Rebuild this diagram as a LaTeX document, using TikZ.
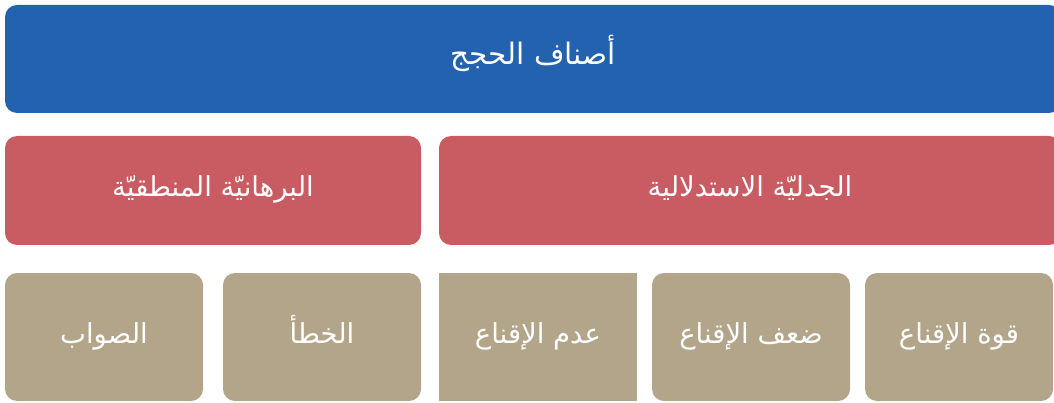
\documentclass[tikz,border=0pt]{standalone}
\usepackage{fontspec}
\newfontfamily\arabicfont[Script=Arabic]{DejaVu Sans}
\TeXXeTstate=1
\definecolor{headblue}{HTML}{2262AE}
\definecolor{kindred}{HTML}{C95C63}
\definecolor{leaftan}{HTML}{B2A58A}

\begin{document}
\begin{tikzpicture}[x=1pt,y=-1pt]
		\tikzstyle{box}=[rectangle, rounded corners=12pt, inner sep=0pt, text height=20pt, text depth=8pt, text=white, font=\arabicfont\fontsize{27.5}{32}\selectfont]
		\tikzstyle{head}=[box, fill=headblue, minimum width=1056pt, minimum height=108pt, font=\arabicfont\fontsize{29.5}{34}\selectfont]
		\tikzstyle{kind}=[box, fill=kindred, minimum height=109pt]
		\tikzstyle{leaf}=[box, fill=leaftan, minimum width=198pt, minimum height=128pt]
		\useasboundingbox (0,0) rectangle (1054,403);
		
		\node[head] (kinds) at (533,59) {\beginR أصناف الحجج\endR};
		
		\node[kind, minimum width=416pt] (logic) at (213,190.5) {\beginR البرهانيّة المنطقيّة\endR};
		\node[kind, minimum width=622pt] (dialect) at (750,190.5) {\beginR الجدليّة الاستدلالية\endR};
		
		\node[leaf] (right) at (104,337) {\beginR الصواب\endR};
		\node[leaf] (wrong) at (322,337) {\beginR الخطأ\endR};
		\node[leaf, sharp corners] (none) at (538,337) {\beginR عدم الإقناع\endR};
		\node[leaf] (weak) at (751,337) {\beginR ضعف الإقناع\endR};
		\node[leaf, minimum width=188pt] (strong) at (959,337) {\beginR قوة الإقناع\endR};
		
	\end{tikzpicture}
\end{document}
